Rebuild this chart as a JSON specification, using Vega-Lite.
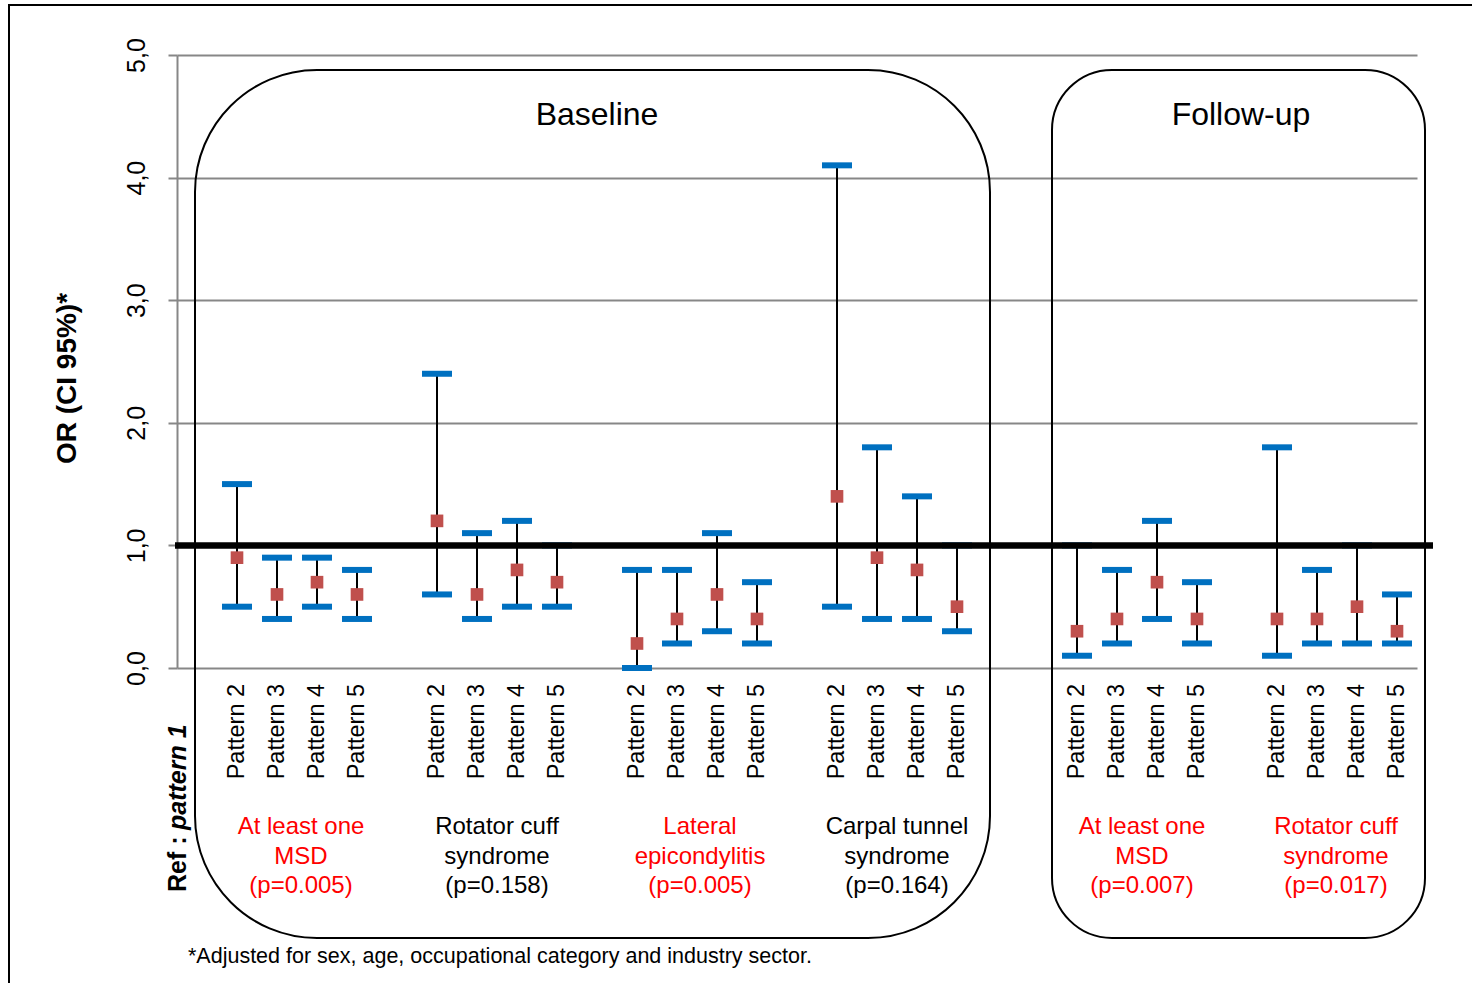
{
  "$schema": "https://vega.github.io/schema/vega-lite/v6.json",
  "width": 1240,
  "height": 613,
  "autosize": {"type": "none"},
  "padding": {"left": 177, "top": 55, "right": 55, "bottom": 315},
  "background": "white",
  "config": {"view": {"stroke": null}, "font": "Liberation Sans"},
  "datasets": {
    "or": [
      {"period": "Baseline", "outcome": "At least one MSD", "pattern": "Pattern 2", "slot": 1, "or": 0.9, "lo": 0.5, "hi": 1.5},
      {"period": "Baseline", "outcome": "At least one MSD", "pattern": "Pattern 3", "slot": 2, "or": 0.6, "lo": 0.4, "hi": 0.9},
      {"period": "Baseline", "outcome": "At least one MSD", "pattern": "Pattern 4", "slot": 3, "or": 0.7, "lo": 0.5, "hi": 0.9},
      {"period": "Baseline", "outcome": "At least one MSD", "pattern": "Pattern 5", "slot": 4, "or": 0.6, "lo": 0.4, "hi": 0.8},
      {"period": "Baseline", "outcome": "Rotator cuff syndrome", "pattern": "Pattern 2", "slot": 6, "or": 1.2, "lo": 0.6, "hi": 2.4},
      {"period": "Baseline", "outcome": "Rotator cuff syndrome", "pattern": "Pattern 3", "slot": 7, "or": 0.6, "lo": 0.4, "hi": 1.1},
      {"period": "Baseline", "outcome": "Rotator cuff syndrome", "pattern": "Pattern 4", "slot": 8, "or": 0.8, "lo": 0.5, "hi": 1.2},
      {"period": "Baseline", "outcome": "Rotator cuff syndrome", "pattern": "Pattern 5", "slot": 9, "or": 0.7, "lo": 0.5, "hi": 1.0},
      {"period": "Baseline", "outcome": "Lateral epicondylitis", "pattern": "Pattern 2", "slot": 11, "or": 0.2, "lo": 0.0, "hi": 0.8},
      {"period": "Baseline", "outcome": "Lateral epicondylitis", "pattern": "Pattern 3", "slot": 12, "or": 0.4, "lo": 0.2, "hi": 0.8},
      {"period": "Baseline", "outcome": "Lateral epicondylitis", "pattern": "Pattern 4", "slot": 13, "or": 0.6, "lo": 0.3, "hi": 1.1},
      {"period": "Baseline", "outcome": "Lateral epicondylitis", "pattern": "Pattern 5", "slot": 14, "or": 0.4, "lo": 0.2, "hi": 0.7},
      {"period": "Baseline", "outcome": "Carpal tunnel syndrome", "pattern": "Pattern 2", "slot": 16, "or": 1.4, "lo": 0.5, "hi": 4.1},
      {"period": "Baseline", "outcome": "Carpal tunnel syndrome", "pattern": "Pattern 3", "slot": 17, "or": 0.9, "lo": 0.4, "hi": 1.8},
      {"period": "Baseline", "outcome": "Carpal tunnel syndrome", "pattern": "Pattern 4", "slot": 18, "or": 0.8, "lo": 0.4, "hi": 1.4},
      {"period": "Baseline", "outcome": "Carpal tunnel syndrome", "pattern": "Pattern 5", "slot": 19, "or": 0.5, "lo": 0.3, "hi": 1.0},
      {"period": "Follow-up", "outcome": "At least one MSD", "pattern": "Pattern 2", "slot": 22, "or": 0.3, "lo": 0.1, "hi": 1.0},
      {"period": "Follow-up", "outcome": "At least one MSD", "pattern": "Pattern 3", "slot": 23, "or": 0.4, "lo": 0.2, "hi": 0.8},
      {"period": "Follow-up", "outcome": "At least one MSD", "pattern": "Pattern 4", "slot": 24, "or": 0.7, "lo": 0.4, "hi": 1.2},
      {"period": "Follow-up", "outcome": "At least one MSD", "pattern": "Pattern 5", "slot": 25, "or": 0.4, "lo": 0.2, "hi": 0.7},
      {"period": "Follow-up", "outcome": "Rotator cuff syndrome", "pattern": "Pattern 2", "slot": 27, "or": 0.4, "lo": 0.1, "hi": 1.8},
      {"period": "Follow-up", "outcome": "Rotator cuff syndrome", "pattern": "Pattern 3", "slot": 28, "or": 0.4, "lo": 0.2, "hi": 0.8},
      {"period": "Follow-up", "outcome": "Rotator cuff syndrome", "pattern": "Pattern 4", "slot": 29, "or": 0.5, "lo": 0.2, "hi": 1.0},
      {"period": "Follow-up", "outcome": "Rotator cuff syndrome", "pattern": "Pattern 5", "slot": 30, "or": 0.3, "lo": 0.2, "hi": 0.6}
    ],
    "groups": [
      {"label": "At least one\nMSD\n(p=0.005)", "pos": 2.6, "sig": "yes"},
      {"label": "Rotator cuff\nsyndrome\n(p=0.158)", "pos": 7.5, "sig": "no"},
      {"label": "Lateral\nepicondylitis\n(p=0.005)", "pos": 12.575, "sig": "yes"},
      {"label": "Carpal tunnel\nsyndrome\n(p=0.164)", "pos": 17.5, "sig": "no"},
      {"label": "At least one\nMSD\n(p=0.007)", "pos": 23.625, "sig": "yes"},
      {"label": "Rotator cuff\nsyndrome\n(p=0.017)", "pos": 28.475, "sig": "yes"}
    ],
    "periods": [
      {"period": "Baseline", "start": -0.05, "end": 19.825, "mid": 10.0},
      {"period": "Follow-up", "start": 21.375, "end": 30.7, "mid": 26.1}
    ]
  },
  "data": {"name": "or"},
  "layer": [
    {
      "mark": {"type": "rule", "color": "black", "strokeWidth": 2},
      "encoding": {
        "x": {"field": "slot", "type": "quantitative", "scale": {"domain": [-0.5, 30.5], "nice": false, "zero": false}, "axis": null},
        "y": {
          "field": "lo", "type": "quantitative",
          "scale": {"domain": [0, 5], "nice": false, "zero": false},
          "axis": {
            "values": [0, 1, 2, 3, 4, 5],
            "labelExpr": "replace(format(datum.value, '.1f'), '.', ',')",
            "labelAngle": -90, "labelAlign": "center", "labelBaseline": "alphabetic",
            "labelFontSize": 25, "labelColor": "black", "labelPadding": 24, "labelFont": "Liberation Sans",
            "tickSize": 9, "tickColor": "#878787", "tickWidth": 2,
            "domainColor": "#878787", "domainWidth": 2,
            "grid": true, "gridColor": "#878787", "gridWidth": 2,
            "title": "OR (CI 95%)*", "titleFontSize": 28, "titleFontWeight": "bold", "titleColor": "black",
            "titleFont": "Liberation Sans", "titleAngle": -90, "titleX": -110, "titleY": 323,
            "titleAlign": "center", "titleBaseline": "middle"
          }
        },
        "y2": {"field": "hi"}
      }
    },
    {
      "mark": {"type": "tick", "orient": "horizontal", "color": "#0070C0", "size": 30, "thickness": 6, "opacity": 1},
      "encoding": {
        "x": {"field": "slot", "type": "quantitative"},
        "y": {"field": "lo", "type": "quantitative"}
      }
    },
    {
      "mark": {"type": "tick", "orient": "horizontal", "color": "#0070C0", "size": 30, "thickness": 6, "opacity": 1},
      "encoding": {
        "x": {"field": "slot", "type": "quantitative"},
        "y": {"field": "hi", "type": "quantitative"}
      }
    },
    {
      "mark": {"type": "point", "shape": "square", "filled": true, "color": "#C0504D", "size": 160, "opacity": 1},
      "encoding": {
        "x": {"field": "slot", "type": "quantitative"},
        "y": {"field": "or", "type": "quantitative"}
      }
    },
    {
      "data": {"values": [{"ref": 1}]},
      "mark": {"type": "rule", "color": "black", "strokeWidth": 6.5},
      "encoding": {
        "x": {"datum": -0.55, "type": "quantitative"},
        "x2": {"datum": 30.9},
        "y": {"field": "ref", "type": "quantitative"}
      }
    },
    {
      "data": {"name": "periods"},
      "mark": {"type": "rect", "fill": "white", "fillOpacity": 0, "stroke": "black", "strokeWidth": 2, "cornerRadius": 122},
      "transform": [{"filter": "datum.period == 'Baseline'"}],
      "encoding": {
        "x": {"field": "start", "type": "quantitative"},
        "x2": {"field": "end"},
        "y": {"datum": 4.878, "type": "quantitative"},
        "y2": {"datum": -2.202}
      }
    },
    {
      "data": {"name": "periods"},
      "mark": {"type": "rect", "fill": "white", "fillOpacity": 0, "stroke": "black", "strokeWidth": 2, "cornerRadius": 60},
      "transform": [{"filter": "datum.period == 'Follow-up'"}],
      "encoding": {
        "x": {"field": "start", "type": "quantitative"},
        "x2": {"field": "end"},
        "y": {"datum": 4.878, "type": "quantitative"},
        "y2": {"datum": -2.202}
      }
    },
    {
      "data": {"name": "periods"},
      "mark": {"type": "text", "fontSize": 32, "align": "center", "baseline": "middle", "color": "black", "font": "Liberation Sans"},
      "encoding": {
        "x": {"field": "mid", "type": "quantitative"},
        "y": {"datum": 4.511, "type": "quantitative"},
        "text": {"field": "period"}
      }
    },
    {
      "mark": {"type": "text", "fontSize": 23.5, "angle": 270, "align": "right", "baseline": "middle", "color": "black", "font": "Liberation Sans"},
      "encoding": {
        "x": {"field": "slot", "type": "quantitative"},
        "y": {"datum": -0.13, "type": "quantitative"},
        "text": {"field": "pattern"}
      }
    },
    {
      "data": {"name": "groups"},
      "mark": {"type": "text", "fontSize": 24, "align": "center", "baseline": "top", "lineBreak": "\n", "lineHeight": 29.5, "font": "Liberation Sans"},
      "encoding": {
        "x": {"field": "pos", "type": "quantitative"},
        "y": {"datum": -1.2, "type": "quantitative"},
        "text": {"field": "label"},
        "color": {"field": "sig", "type": "nominal", "scale": {"domain": ["yes", "no"], "range": ["#FF0000", "#000000"]}, "legend": null}
      }
    },
    {
      "data": {"values": [{"t": "Ref :"}]},
      "mark": {"type": "text", "fontSize": 25, "fontWeight": "bold", "angle": 270, "align": "left", "baseline": "middle", "color": "black", "font": "Liberation Sans"},
      "encoding": {
        "x": {"datum": -0.475, "type": "quantitative"},
        "y": {"datum": -1.827, "type": "quantitative"},
        "text": {"field": "t"}
      }
    },
    {
      "data": {"values": [{"t": "pattern 1"}]},
      "mark": {"type": "text", "fontSize": 25, "fontWeight": "bold", "fontStyle": "italic", "angle": 270, "align": "left", "baseline": "middle", "color": "black", "font": "Liberation Sans"},
      "encoding": {
        "x": {"datum": -0.475, "type": "quantitative"},
        "y": {"datum": -1.321, "type": "quantitative"},
        "text": {"field": "t"}
      }
    },
    {
      "data": {"values": [{"t": "*Adjusted for sex, age, occupational category and industry sector."}]},
      "mark": {"type": "text", "fontSize": 21.5, "align": "left", "baseline": "middle", "color": "black", "font": "Liberation Sans"},
      "encoding": {
        "x": {"datum": -0.225, "type": "quantitative"},
        "y": {"datum": -2.357, "type": "quantitative"},
        "text": {"field": "t"}
      }
    },
    {
      "data": {"values": [{"frame": 1}]},
      "mark": {"type": "rect", "fill": "white", "fillOpacity": 0, "stroke": "black", "strokeWidth": 2},
      "encoding": {
        "x": {"datum": -4.7, "type": "quantitative"},
        "x2": {"datum": 32.1},
        "y": {"datum": 5.408, "type": "quantitative"},
        "y2": {"datum": -2.7}
      }
    }
  ]
}
